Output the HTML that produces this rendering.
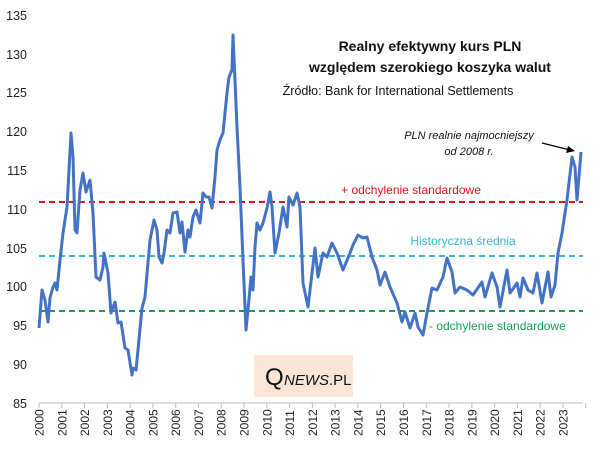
<!DOCTYPE html>
<html><head><meta charset="utf-8"><style>
body{margin:0;background:#fff;}
svg text{font-family:"Liberation Sans",sans-serif;}
</style></head><body>
<svg width="605" height="447" viewBox="0 0 605 447" xmlns="http://www.w3.org/2000/svg">
<g font-size="12.5" fill="#222" text-anchor="end">
<text x="27" y="20">135</text><text x="27" y="59">130</text><text x="27" y="97">125</text><text x="27" y="136">120</text><text x="27" y="175">115</text><text x="27" y="214">110</text><text x="27" y="253">105</text><text x="27" y="291">100</text><text x="27" y="330">95</text><text x="27" y="369">90</text><text x="27" y="408">85</text>
</g>
<line x1="39" y1="403" x2="583" y2="403" stroke="#bbb" stroke-width="1"/>
<g stroke="#bbb" stroke-width="1" id="ticks"></g>
<g font-size="12" fill="#222" id="years"></g>
<line x1="39" y1="202" x2="583" y2="202" stroke="#e0101f" stroke-width="2" stroke-dasharray="6,4"/>
<line x1="39" y1="256" x2="583" y2="256" stroke="#2fb6d8" stroke-width="2" stroke-dasharray="6,4"/>
<line x1="39" y1="311" x2="583" y2="311" stroke="#14a050" stroke-width="2" stroke-dasharray="6,4"/>
<polyline fill="none" stroke="#4472c4" stroke-width="3" stroke-linejoin="round" points="39,328 42,290 45,300 48,322 50,298 53,287 55,283 57,290 60,260 63,233 67,207 71,133 73,157 75,230 77,233 80,190 83,173 86,192 90,180 93,213 96,277 100,280 103,267 104,253 108,273 111,313 115,302 118,323 121,322 125,348 128,350 132,375 133,368 136,370 138,350 142,308 145,297 150,240 154,220 157,230 159,257 162,263 164,253 167,230 170,233 173,213 177,212 180,233 182,222 185,252 188,230 190,237 193,217 196,210 200,223 203,193 206,197 209,197 212,208 215,177 217,150 220,140 223,133 227,93 229,77 232,70 233,35 234,58 237,127 240,187 243,260 246,330 248,310 251,277 253,290 255,247 257,223 260,230 263,223 267,208 270,192 272,207 275,253 279,233 283,207 287,227 289,197 293,205 297,193 300,207 303,283 308,307 315,248 318,277 323,253 327,257 332,243 337,253 343,270 350,253 353,245 358,235 363,238 367,237 372,257 377,270 380,285 385,272 390,287 397,303 402,322 405,312 410,328 415,313 418,327 423,335 427,313 432,288 437,290 443,277 447,258 452,272 455,293 460,287 467,290 473,295 482,282 485,297 492,273 497,287 500,307 507,270 510,293 517,283 520,297 523,278 528,290 533,293 537,273 542,303 548,272 551,297 555,285 558,253 562,233 567,200 572,157 575,167 577,200 581,152"/>
<g text-anchor="middle" fill="#111">
<text x="430" y="51" font-size="14" font-weight="bold">Realny efektywny kurs PLN</text>
<text x="430" y="72" font-size="14" font-weight="bold">względem szerokiego koszyka walut</text>
<text x="398" y="95" font-size="12.5">Źródło: Bank for International Settlements</text>
<text x="469" y="139" font-size="11" font-style="italic">PLN realnie najmocniejszy</text>
<text x="469" y="155" font-size="11" font-style="italic">od 2008 r.</text>
<text x="411" y="194" font-size="12" fill="#e0101f">+ odchylenie standardowe</text>
<text x="463" y="245" font-size="12" fill="#2fb6d8">Historyczna średnia</text>
</g>
<text x="429" y="330" font-size="12" fill="#14a050">- odchylenie standardowe</text>
<line x1="542" y1="143" x2="570" y2="150" stroke="#000" stroke-width="1.2"/>
<polygon points="575,151 566,153 568,146" fill="#000"/>
<rect x="254" y="355" width="99" height="42" fill="#fbe5d6"/>
<text x="265" y="385" font-family="Liberation Serif,serif" font-size="24" fill="#111">Q</text>
<text x="284" y="385" font-size="15" fill="#111"><tspan font-style="italic">NEWS</tspan>.PL</text>
</svg>
<script>
var t=document.getElementById('ticks'),y=document.getElementById('years'),h='',s='';
for(var i=0;i<=24;i++){var x=39+i*22.78;h+='<line x1="'+x+'" y1="403" x2="'+x+'" y2="408"/>';
if(i<24)s+='<text transform="translate('+(x+4.5)+',436) rotate(-90)">'+(2000+i)+'</text>';}
t.innerHTML=h;y.innerHTML=s;
</script>
</body></html>
